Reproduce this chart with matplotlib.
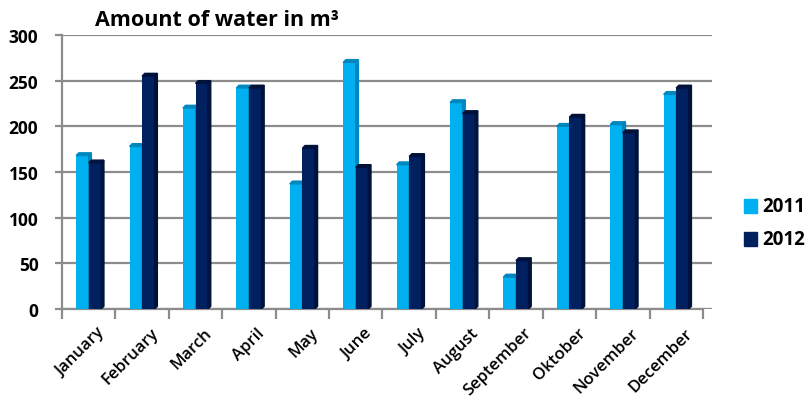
from matplotlib import pyplot as plt
from matplotlib.patches import Polygon
import numpy as np

# Data
months = ['January', 'February', 'March', 'April', 'May', 'June', 'July',
          'August', 'September', 'Oktober', 'November', 'December']
water_2011 = [168, 178, 220, 242, 137, 270, 158, 226, 35, 200, 202, 235]
water_2012 = [160, 255, 247, 242, 176, 155, 167, 214, 53, 210, 193, 242]
y_ticks = [0, 50, 100, 150, 200, 250, 300]

# Colours (front face, side face)
c11, c11_side = '#00B0F0', '#0088BE'
c12, c12_side = '#002060', '#00123A'
grid_col = '#8C8C8C'

plt.rcParams['font.family'] = ['Open Sans', 'DejaVu Sans']

fig = plt.figure(figsize=(8.1, 4.14), dpi=100)
ax = fig.add_axes([62/810, 1-310/414, 650/810, 274/414])

x = np.arange(len(months))
w = 0.235        # bar width in category units
dx, dy = 0.05, 3.0  # depth offset of the 3D faces


def draw_bars(xpos, vals, face, side):
    ax.bar(xpos, vals, width=w, color=face, align='edge', zorder=3)
    for xi, v in zip(xpos, vals):
        # right side face
        ax.add_patch(Polygon([(xi+w, 0), (xi+w+dx, dy), (xi+w+dx, v+dy), (xi+w, v)],
                             closed=True, color=side, zorder=3))
        # top cap
        ax.add_patch(Polygon([(xi, v), (xi+w, v), (xi+w+dx, v+dy), (xi+dx, v+dy)],
                             closed=True, color=side, zorder=3))


draw_bars(x - w, water_2011, c11, c11_side)
draw_bars(x, water_2012, c12, c12_side)

# Grid and axes
for yt in y_ticks:
    ax.axhline(yt, color=grid_col, lw=1.6, zorder=1)
ax.set_xlim(-0.5, 11.67)
ax.set_ylim(0, 300)
for s in ['top', 'right', 'bottom']:
    ax.spines[s].set_visible(False)
ax.spines['left'].set_color(grid_col)
ax.spines['left'].set_linewidth(1.6)
ax.hlines(0, -0.5, 11.5, color=grid_col, lw=1.6, zorder=2, clip_on=False)

ax.set_yticks(y_ticks)
ax.set_yticklabels([str(t) for t in y_ticks], fontsize=12.5, fontweight='bold')
ax.tick_params(axis='y', length=5, width=1.6, color=grid_col, pad=12)

# category boundaries as ticks, labels at centres
ax.set_xticks(np.arange(-0.5, 12, 1))
ax.set_xticklabels([])
ax.tick_params(axis='x', length=7, width=1.6, color=grid_col, direction='out')
for xi, m in zip(x, months):
    ax.text(xi + 0.15, -17, m, rotation=45, ha='right', va='top',
            fontsize=12, fontweight='semibold', rotation_mode='anchor')

fig.text(95/810, 1-20/414, 'Amount of water in m³', fontsize=15.5,
         fontweight='bold', va='center', ha='left')

# Legend
for yy, col, lab in [(207, c11, '2011'), (240, c12, '2012')]:
    fig.patches.append(plt.Rectangle((744/810, 1-(yy+7)/414), 13/810, 14/414,
                                     color=col, transform=fig.transFigure))
    fig.text(762/810, 1-yy/414, lab, fontsize=13.5, fontweight='bold',
             va='center', ha='left')

plt.savefig('out.png', dpi=100)
